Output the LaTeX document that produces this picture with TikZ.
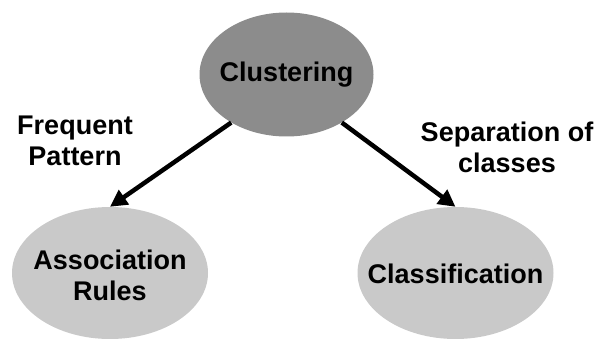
\documentclass[tikz,border=0pt]{standalone}
\usepackage{fontspec}
\setmainfont{Liberation Sans}
\usetikzlibrary{shapes.geometric,arrows.meta}
\begin{document}
\begin{tikzpicture}[x=1pt,y=-1pt,
  bubble/.style={ellipse,inner sep=0pt},
  txt/.style={font=\fontsize{27}{31}\selectfont\bfseries,align=center,inner sep=0pt},
  arr/.style={line width=4.5pt,-{Triangle[length=17pt,width=17pt]}}]
\useasboundingbox (0,0) rectangle (602,339);
\node[bubble,fill=black!45,minimum width=174pt,minimum height=124pt] (top) at (286.5,74.5) {};
\node[bubble,fill=black!21,minimum width=196pt,minimum height=132pt] (assoc) at (110,273) {};
\node[bubble,fill=black!21,minimum width=196pt,minimum height=132pt] (class) at (455.5,273) {};
\node[txt] (topt) at (top.center) {Clustering};
\node[txt] (assoct) at (110,275) {Association\\Rules};
\node[txt] (classt) at (455.5,274) {Classification};
\draw[arr] (top.221) -- (assoc.north);
\draw[arr] (top.319) -- (class.north);
\node[txt] (fp) at (75,141) {Frequent\\Pattern};
\node[txt] (sc) at (507,147) {Separation of\\classes};
\end{tikzpicture}
\end{document}
